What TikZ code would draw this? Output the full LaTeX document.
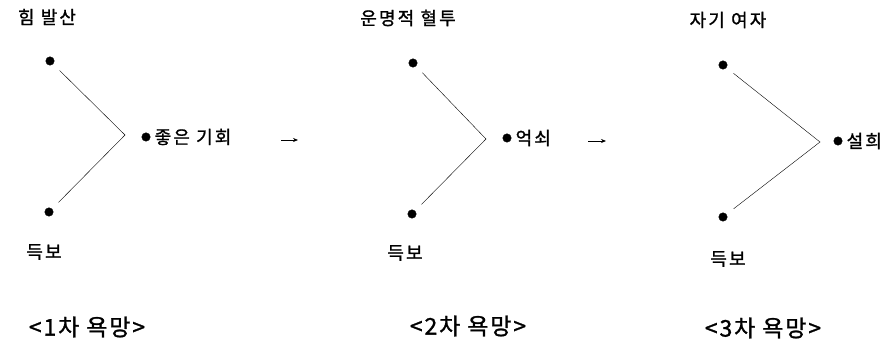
\documentclass[tikz,border=0pt]{standalone}
\usepackage{fontspec}
\setmainfont{Noto Sans CJK KR}
\newfontfamily\krfont[LetterSpace=12, AutoFakeBold=1.2]{Noto Sans CJK KR}
\newfontfamily\krcapfont[LetterSpace=8, AutoFakeBold=1.2]{Noto Sans CJK KR}
\usepackage{tikz}
\usetikzlibrary{arrows,arrows.meta,positioning,calc}

\begin{document}
\begin{tikzpicture}[x=1pt, y=-1pt, >={Stealth[length=5pt,width=4pt]}, thin]
    \tikzset{
        dot/.style={draw, fill=black, circle, inner sep=0pt, minimum size=8.5pt},
        label/.style={font=\krfont\bfseries\fontsize{18}{21}\selectfont, inner sep=1pt},
        caption/.style={font=\krcapfont\bfseries\fontsize{23}{26}\selectfont, inner sep=1pt},
        line/.style={draw, shorten <=9pt, shorten >=9pt},
        stepon/.style={draw, ->, line width=0.7pt, shorten <=0pt}
    }
    \useasboundingbox (0,0) rectangle (892,363);

    % first desire
    \node [dot] (top1) at (50,61) {};
    \node [dot] (bot1) at (49,212) {};
    \coordinate (apex1) at (125,135);
    \node [dot] (mid1) at (146,137) {};
    \node [label] (tt1) at (47,17) {힘 발산};
    \node [label, right=3pt of mid1] (obj1) {좋은 기회};
    \node [label] (db1) at (44,252) {득보};
    \node [caption] (cap1) at (87,327) {<1차 욕망>};
    \path [line] (top1) -- (apex1) -- (bot1);

    % second desire
    \node [dot] (top2) at (413,63) {};
    \node [dot] (bot2) at (412,214) {};
    \coordinate (apex2) at (486,139);
    \node [dot] (mid2) at (507,138) {};
    \node [label] (tt2) at (408,18) {운명적 혈투};
    \node [label, right=3pt of mid2] (obj2) {억쇠};
    \node [label] (db2) at (405,253) {득보};
    \node [caption] (cap2) at (468,326) {<2차 욕망>};
    \path [line] (top2) -- (apex2) -- (bot2);

    % third desire
    \node [dot] (top3) at (723,65) {};
    \node [dot] (bot3) at (723,217) {};
    \coordinate (apex3) at (820,142);
    \node [dot] (mid3) at (838,141) {};
    \node [label] (tt3) at (728,20) {자기 여자};
    \node [label, right=3pt of mid3] (obj3) {설희};
    \node [label] (db3) at (728,259) {득보};
    \node [caption] (cap3) at (763,328) {<3차 욕망>};
    \path [line] (top3) -- (apex3) -- (bot3);

    % from one desire to the next
    \coordinate (go1) at (281,140);
    \coordinate (go2) at (588,141);
    \draw [stepon] (go1) -- ++(17,0);
    \draw [stepon] (go2) -- ++(18,0);
\end{tikzpicture}
\end{document}
